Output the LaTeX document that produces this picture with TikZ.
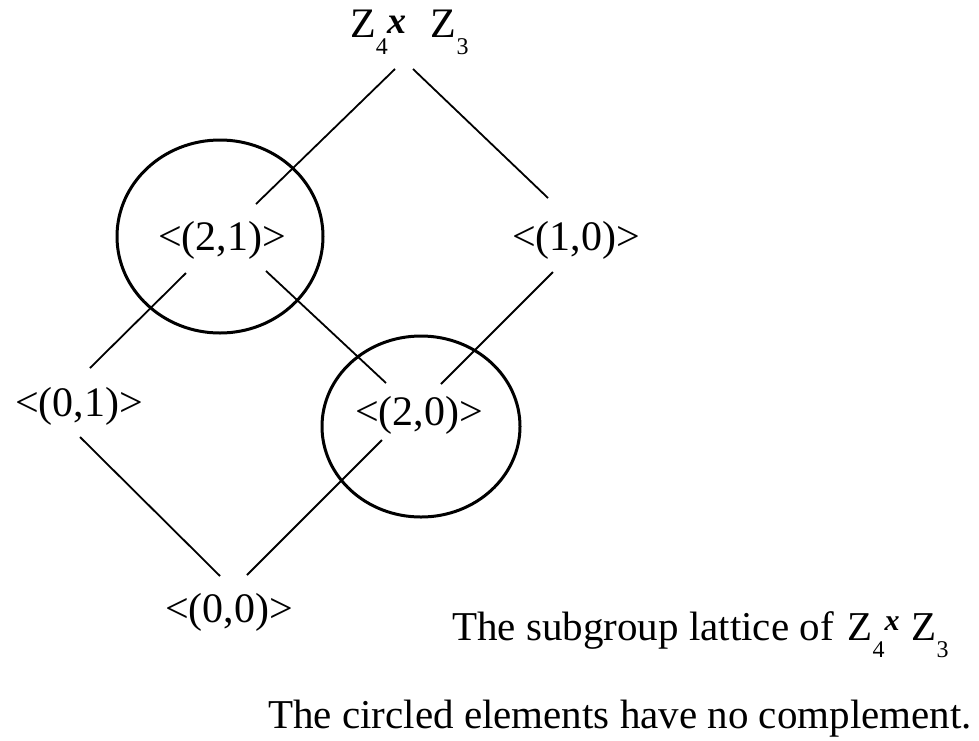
\documentclass[tikz,border=0pt]{standalone}
\usepackage{fontspec}
\setmainfont{Liberation Serif}
\newcommand\zsub[1]{\raisebox{-0.42em}{\fontsize{24}{24}\selectfont #1}}
\newcommand\zcross[2]{\raisebox{#1}{\fontsize{#2}{#2}\selectfont\bfseries\itshape x}}
\begin{document}
\begin{tikzpicture}[x=1pt,y=-1pt,
  lbl/.style={font=\fontsize{42}{42}\selectfont, inner sep=0pt, anchor=base},
  captext/.style={font=\fontsize{41}{41}\selectfont, inner sep=0pt},
  edge/.style={line width=1.8pt},
  ring/.style={line width=3pt}]
\useasboundingbox[fill=white] (0,0) rectangle (979,740);

% nodes
\node[lbl, anchor=base west] (top) at (350,37) {Z\zsub{4}\zcross{4pt}{38}\hspace{24pt}Z\zsub{3}};
\node[lbl] (n21) at (222,250) {<(2,1)>};
\node[lbl] (n10) at (576,250) {<(1,0)>};
\node[lbl] (n01) at (79,416) {<(0,1)>};
\node[lbl] (n20) at (419,425) {<(2,0)>};
\node[lbl] (n00) at (229,622) {<(0,0)>};
\node[captext, anchor=base west] (cap1) at (452,640) {The subgroup lattice of\hspace{14pt}Z\zsub{4}\zcross{10pt}{30}\hspace{12pt}Z\zsub{3}};
\node[captext, anchor=base west] (cap2) at (268,728) {The circled elements have no complement.};

% circles
\draw[ring] ([shift={(-2,-13.5)}]n21.base) ellipse [x radius=103, y radius=96.5];
\draw[ring] ([shift={(2,1.5)}]n20.base) ellipse [x radius=99, y radius=90.5];

% connectors
\draw[edge] ([shift={(45,32)}]top.base west) -- ([shift={(34,-46)}]n21.base);
\draw[edge] ([shift={(63,32)}]top.base west) -- ([shift={(-28,-52)}]n10.base);
\draw[edge] ([shift={(-36,23)}]n21.base) -- ([shift={(11,-48)}]n01.base);
\draw[edge] ([shift={(44,21)}]n21.base) -- ([shift={(-33,-42)}]n20.base);
\draw[edge] ([shift={(-23,22)}]n10.base) -- ([shift={(22,-41)}]n20.base);
\draw[edge] ([shift={(1,21)}]n01.base) -- ([shift={(-9,-46)}]n00.base);
\draw[edge] ([shift={(-37,15)}]n20.base) -- ([shift={(18,-47)}]n00.base);
\end{tikzpicture}
\end{document}
